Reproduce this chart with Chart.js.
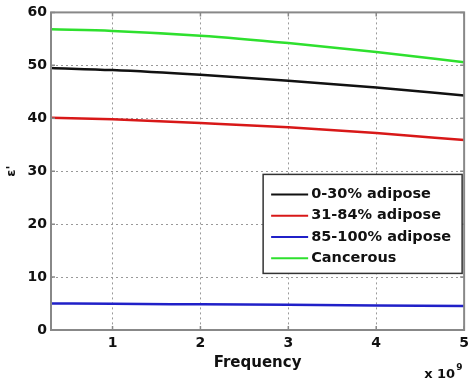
<!DOCTYPE html>
<html>
<head>
<meta charset="utf-8">
<script src="https://cdn.jsdelivr.net/npm/chart.js@4/dist/chart.umd.min.js"></script>
<style>
  html, body { margin: 0; padding: 0; background: #fff; }
</style>
</head>
<body>
<canvas id="chart" width="474" height="378"></canvas>
<script>
// frequency in units of 1e9 Hz
const frequency = [0.3, 1, 2, 3, 4, 5];
const adipose0to30 = [49.5, 49.1, 48.2, 47.1, 45.8, 44.3];
const adipose31to84 = [40.1, 39.8, 39.1, 38.3, 37.2, 35.9];
const adipose85to100 = [5.0, 4.95, 4.85, 4.75, 4.65, 4.55];
const cancerous = [56.8, 56.5, 55.6, 54.2, 52.5, 50.6];
const xTicks = [1, 2, 3, 4, 5];

const seriesNames = ["0-30% adipose", "31-84% adipose", "85-100% adipose", "Cancerous"];
const seriesColors = ["#111111", "#d81818", "#2020c8", "#2ee02e"];
const seriesValues = [adipose0to30, adipose31to84, adipose85to100, cancerous];

const fam = "'DejaVu Sans', Arial";
const tickFont = { family: fam, size: 14, weight: "bold" };

function toPoints(vals) {
  return vals.map((v, i) => ({ x: frequency[i], y: v }));
}

// matlab style box with inner ticks
const framePlugin = {
  id: "frame",
  afterDatasetsDraw(chart) {
    const { ctx, chartArea: a, scales } = chart;
    ctx.save();
    ctx.strokeStyle = "#888";
    ctx.lineWidth = 1.5;
    ctx.beginPath();
    xTicks.forEach((t) => {
      const px = scales.x.getPixelForValue(t);
      ctx.moveTo(px, a.bottom);
      ctx.lineTo(px, a.bottom - 4);
      ctx.moveTo(px, a.top);
      ctx.lineTo(px, a.top + 4);
    });
    scales.y.ticks.forEach((t) => {
      const py = scales.y.getPixelForValue(t.value);
      ctx.moveTo(a.left, py);
      ctx.lineTo(a.left + 4, py);
      ctx.moveTo(a.right, py);
      ctx.lineTo(a.right - 4, py);
    });
    ctx.stroke();
    ctx.lineWidth = 2;
    ctx.strokeRect(a.left, a.top, a.right - a.left, a.bottom - a.top);
    ctx.restore();
  },
};

const legendPlugin = {
  id: "boxLegend",
  afterDraw(chart) {
    const { ctx, chartArea: a } = chart;
    const w = 199, h = 99;
    const x0 = a.right - w - 2;
    const y0 = a.top + 162;
    ctx.save();
    ctx.fillStyle = "#fff";
    ctx.fillRect(x0, y0, w, h);
    ctx.strokeStyle = "#333";
    ctx.lineWidth = 1.5;
    ctx.strokeRect(x0, y0, w, h);
    ctx.font = "bold 14.5px " + fam;
    ctx.textBaseline = "middle";
    chart.data.datasets.forEach((ds, i) => {
      const y = y0 + 20 + i * 21.3;
      ctx.strokeStyle = ds.borderColor;
      ctx.lineWidth = 2;
      ctx.beginPath();
      ctx.moveTo(x0 + 8, y);
      ctx.lineTo(x0 + 45, y);
      ctx.stroke();
      ctx.fillStyle = "#111";
      ctx.fillText(ds.label, x0 + 48, y);
    });
    // exponent label
    ctx.textBaseline = "alphabetic";
    ctx.textAlign = "right";
    ctx.font = "bold 13px " + fam;
    ctx.fillText("x 10", a.right - 9, 378);
    ctx.textAlign = "left";
    ctx.font = "bold 9px " + fam;
    ctx.fillText("9", a.right - 8, 370);
    ctx.restore();
  },
};

new Chart(document.getElementById("chart"), {
  type: "line",
  data: {
    datasets: seriesValues.map((vals, i) => ({
      label: seriesNames[i],
      data: toPoints(vals),
      borderColor: seriesColors[i],
      backgroundColor: seriesColors[i],
      borderWidth: 2.5,
      pointRadius: 0,
      cubicInterpolationMode: "monotone",
      fill: false,
    })),
  },
  options: {
    responsive: false,
    animation: false,
    layout: { padding: { top: 10, right: 8, left: 0, bottom: 0 } },
    plugins: { legend: { display: false }, tooltip: { enabled: false } },
    scales: {
      x: {
        type: "linear",
        min: 0.3,
        max: 5,
        afterBuildTicks: (s) => {
          s.ticks = xTicks.map((v) => ({ value: v }));
        },
        afterFit: (s) => {
          s.height = 48;
        },
        ticks: { font: tickFont, color: "#111", padding: 5 },
        grid: { color: "#999", drawTicks: false, lineWidth: 1 },
        border: { display: false, dash: [2, 3] },
        title: {
          display: true,
          text: "Frequency",
          font: { family: fam, size: 15, weight: "bold" },
          color: "#111",
          padding: { top: 0, bottom: 6 },
        },
      },
      y: {
        min: 0,
        max: 60,
        afterFit: (s) => {
          s.width = 51;
        },
        ticks: { stepSize: 10, font: tickFont, color: "#111", padding: 4 },
        grid: { color: "#999", drawTicks: false, lineWidth: 1 },
        border: { display: false, dash: [2, 3] },
        title: {
          display: true,
          text: "ε'",
          font: { family: fam, size: 13, weight: "bold" },
          color: "#111",
          padding: { top: 4, bottom: 0 },
        },
      },
    },
  },
  plugins: [framePlugin, legendPlugin],
});
</script>
</body>
</html>
